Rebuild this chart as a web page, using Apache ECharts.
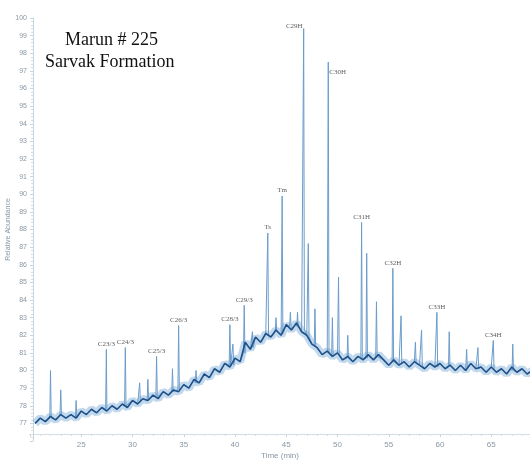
<!DOCTYPE html>
<html>
<head>
<meta charset="utf-8">
<script src="https://cdn.jsdelivr.net/npm/echarts@6/dist/echarts.min.js"></script>
<style>
  html, body { margin: 0; padding: 0; background: #fff; }
  #chart { width: 530px; height: 466px; }
</style>
</head>
<body>
<div id="chart"></div>
<script>
// baseline read every 0.5 min, starting at 20.5 min
var baseStart = 20.5;
var baseStep = 0.5;
var baseline = [
  77.0, 77.3, 77.1, 77.4, 77.2, 77.5, 77.3, 77.5, 77.3, 77.7,
  77.5, 77.8, 77.6, 77.9, 77.7, 78.0, 77.8, 78.1, 77.9, 78.3,
  78.1, 78.4, 78.3, 78.6, 78.4, 78.8, 78.6, 78.9, 78.8, 79.2,
  79.0, 79.5, 79.3, 79.8, 79.6, 80.1, 79.9, 80.4, 80.2, 80.7,
  80.5, 81.6, 81.2, 81.9, 81.6, 82.1, 81.9, 82.3, 82.0, 82.6,
  82.3, 82.7, 82.2, 82.0, 81.5, 81.3, 80.9, 81.1, 80.8, 81.0,
  80.6, 80.8, 80.5, 80.8, 80.6, 80.9, 80.6, 80.9, 80.6, 80.3,
  80.6, 80.3, 80.5, 80.2, 80.5, 80.3, 80.1, 80.4, 80.2, 80.4,
  80.1, 80.3, 80.0, 80.3, 80.0, 80.4, 80.1, 80.2, 79.9, 80.2,
  79.9, 80.1, 79.8, 80.2, 79.9, 80.1, 79.8, 80.0, 79.9
];

// peaks: retention time, apex, foot
var peakTimes = [22.0, 23.0, 24.5, 27.45, 29.3, 30.7, 31.5, 32.35, 33.9, 34.5,
  36.2, 39.5, 39.8, 40.9, 41.7, 43.2, 44.0, 44.6, 45.4, 46.1,
  46.7, 47.15, 47.8, 49.1, 49.5, 50.1, 51.0, 52.35, 52.85, 53.8,
  55.4, 56.2, 57.6, 58.2, 59.7, 60.9, 62.6, 63.7, 65.2, 67.1];
var peakTops = [80.0, 78.9, 78.3, 81.2, 81.3, 79.3, 79.5, 80.8, 80.1, 82.55,
  80.0, 82.6, 81.5, 83.7, 82.2, 87.8, 83.0, 89.9, 83.3, 83.3,
  99.4, 87.2, 83.5, 97.5, 83.0, 85.3, 82.0, 88.4, 86.65, 83.9,
  85.8, 83.1, 81.6, 82.3, 83.3, 82.2, 81.2, 81.3, 81.7, 81.5];
var peakFeet = [77.3, 77.5, 77.3, 77.8, 78.0, 78.2, 78.3, 78.5, 78.8, 78.9,
  79.3, 80.3, 80.3, 81.0, 81.3, 82.0, 82.2, 82.1, 82.5, 82.5,
  82.3, 81.9, 81.4, 81.0, 80.8, 80.9, 80.7, 80.7, 80.7, 80.8,
  80.5, 80.4, 80.4, 80.3, 80.2, 80.3, 80.1, 80.1, 80.1, 80.0];

// compound labels
var labelNames = ['C23/3', 'C24/3', 'C25/3', 'C26/3', 'C28/3', 'C29/3', 'Ts', 'Tm',
  'C29H', 'C30H', 'C31H', 'C32H', 'C33H', 'C34H'];
var labelTimes = [27.45, 29.3, 32.35, 34.5, 39.5, 40.9, 43.2, 44.6, 46.7, 49.1, 52.35, 55.4, 59.7, 65.2];
var labelTops = [81.2, 81.3, 80.8, 82.55, 82.6, 83.7, 87.8, 89.9, 99.4, 97.5, 88.4, 85.8, 83.3, 81.7];

var basePoints = baseline.map(function (v, i) { return [baseStart + i * baseStep, v]; });
var trace = basePoints.slice();
peakTimes.forEach(function (t, i) {
  trace.push([t - 0.07, peakFeet[i]], [t, peakTops[i]], [t + 0.07, peakFeet[i]]);
});
trace.sort(function (a, b) { return a[0] - b[0]; });

var labelData = labelNames.map(function (n, i) {
  var lab = { position: 'top', distance: 2 };
  if (n === 'C29H') lab = { position: 'left', distance: 1, offset: [0, -2] };
  if (n === 'C30H') lab = { position: 'right', distance: 1, offset: [0, 10] };
  return { name: n, value: [labelTimes[i], labelTops[i]], label: lab };
});

var chart = echarts.init(document.getElementById('chart'));
chart.setOption({
  animation: false,
  backgroundColor: '#fff',
  grid: { left: 30, right: 0, top: 18, bottom: 25, outerBoundsMode: 'none', containLabel: false },
  graphic: [
    { type: 'text', left: 65, top: 31, style: { text: 'Marun # 225', font: '18px "Liberation Serif"', fill: '#111' } },
    { type: 'text', left: 45, top: 53, style: { text: 'Sarvak Formation', font: '18px "Liberation Serif"', fill: '#111' } }
  ],
  xAxis: {
    type: 'value',
    min: 20,
    max: 68.78,
    interval: 5,
    offset: -7,
    name: 'Time (min)',
    nameLocation: 'middle',
    nameGap: 18,
    nameMoveOverlap: false,
    nameTextStyle: { color: '#8a97a3', fontSize: 8 },
    axisLine: { lineStyle: { color: '#c9d5df', type: 'dotted' } },
    axisTick: { lineStyle: { color: '#c9d5df' }, length: 3 },
    minorTick: { show: true, splitNumber: 5, length: 2, lineStyle: { color: '#d5dee6' } },
    axisLabel: { color: '#8a97a3', fontSize: 8, margin: 7, showMinLabel: false, showMaxLabel: false },
    splitLine: { show: false }
  },
  yAxis: {
    type: 'value',
    min: 76,
    max: 100,
    interval: 1,
    offset: -3,
    name: 'Relative Abundance',
    nameLocation: 'middle',
    nameGap: 21,
    nameMoveOverlap: false,
    nameTextStyle: { color: '#8a97a3', fontSize: 7 },
    axisLine: { show: true, lineStyle: { color: '#c9d5df' } },
    axisTick: { show: true, length: 3, lineStyle: { color: '#c9d5df' } },
    minorTick: { show: true, splitNumber: 5, length: 2, lineStyle: { color: '#d5dee6' } },
    axisLabel: {
      color: '#8a97a3', fontSize: 7, margin: 6,
      formatter: function (v) { return v === 76 ? '' : v; }
    },
    splitLine: { show: false }
  },
  series: [
    {
      type: 'line',
      data: basePoints,
      symbol: 'none',
      silent: true,
      lineStyle: { color: 'rgba(120,170,215,0.45)', width: 8 },
      z: 1
    },
    {
      type: 'line',
      data: trace,
      symbol: 'none',
      lineStyle: { color: '#6b9ccb', width: 1 },
      z: 2
    },
    {
      type: 'line',
      data: basePoints,
      symbol: 'none',
      silent: true,
      lineStyle: { color: '#1f5188', width: 1.6 },
      z: 3
    },
    {
      type: 'scatter',
      data: labelData,
      symbolSize: 0,
      label: {
        show: true,
        formatter: '{b}',
        fontFamily: 'Liberation Serif',
        fontSize: 7,
        color: '#333'
      },
      z: 4
    }
  ]
});
</script>
</body>
</html>
